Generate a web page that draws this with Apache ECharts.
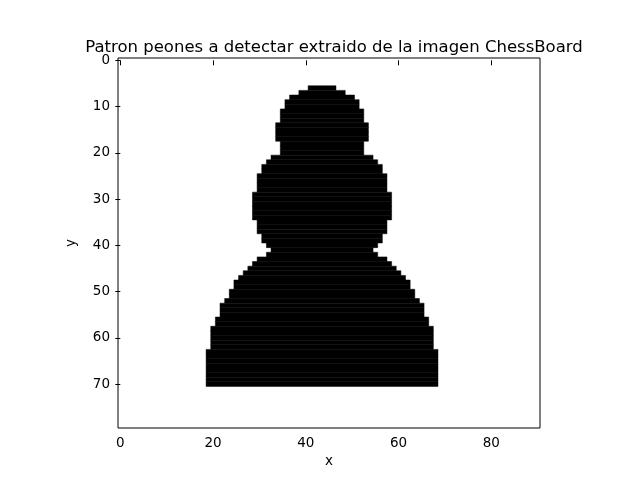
<!DOCTYPE html>
<html>
<head>
<meta charset="utf-8">
<script src="https://cdn.jsdelivr.net/npm/echarts@6/dist/echarts.min.js"></script>
<style>html,body{margin:0;padding:0;background:#fff}#main{width:640px;height:480px}</style>
</head>
<body>
<div id="main"></div>
<script>
var chart = echarts.init(document.getElementById('main'));

// filas de la imagen binaria: fila y, primera y ultima columna en negro
var rowY     = [6, 7, 8, 9, 10, 11, 12, 13, 14, 15, 16, 17, 18, 19, 20, 21, 22, 23, 24, 25, 26, 27, 28, 29, 30, 31, 32, 33, 34, 35, 36, 37, 38, 39, 40, 41, 42, 43, 44, 45, 46, 47, 48, 49, 50, 51, 52, 53, 54, 55, 56, 57, 58, 59, 60, 61, 62, 63, 64, 65, 66, 67, 68, 69, 70];
var rowStart = [41, 39, 37, 36, 36, 35, 35, 35, 34, 34, 34, 34, 35, 35, 35, 33, 32, 31, 31, 30, 30, 30, 30, 29, 29, 29, 29, 29, 29, 30, 30, 30, 31, 31, 32, 33, 32, 30, 29, 28, 27, 26, 25, 25, 24, 24, 23, 22, 22, 22, 21, 21, 20, 20, 20, 20, 20, 19, 19, 19, 19, 19, 19, 19, 19];
var rowEnd   = [46, 48, 50, 51, 51, 52, 52, 52, 53, 53, 53, 53, 52, 52, 52, 54, 55, 56, 56, 57, 57, 57, 57, 58, 58, 58, 58, 58, 58, 57, 57, 57, 56, 56, 55, 54, 55, 57, 58, 59, 60, 61, 62, 62, 63, 63, 64, 65, 65, 65, 66, 66, 67, 67, 67, 67, 67, 68, 68, 68, 68, 68, 68, 68, 68];

var runs = rowY.map(function (y, i) { return [rowStart[i], rowEnd[i], y]; });

var option = {
    animation: false,
    backgroundColor: '#fff',
    title: {
        text: 'Patron peones a detectar extraido de la imagen ChessBoard',
        left: 329, top: 34, textAlign: 'center',
        textStyle: {fontFamily: 'DejaVu Sans', fontSize: 16.5, fontWeight: 'normal', color: '#000'}
    },
    grid: {left: 118, right: 100, top: 58, bottom: 52, show: true, borderColor: '#000', borderWidth: 1},
    xAxis: {
        type: 'value', min: -0.5, max: 90.5, splitNumber: 5,
        name: 'x', nameLocation: 'middle', nameGap: 26,
        nameTextStyle: {fontFamily: 'DejaVu Sans', fontSize: 13.5, color: '#000'},
        axisLine: {show: false},
        axisTick: {show: true, length: 5, lineStyle: {color: '#000'}},
        axisLabel: {showMinLabel: false, showMaxLabel: false, fontFamily: 'DejaVu Sans', fontSize: 13.5, color: '#000', margin: 8},
        splitLine: {show: false}
    },
    yAxis: {
        type: 'value', min: -0.5, max: 79.5, inverse: true, splitNumber: 8,
        name: 'y', nameLocation: 'middle', nameGap: 40,
        nameTextStyle: {fontFamily: 'DejaVu Sans', fontSize: 13.5, color: '#000'},
        axisLine: {show: false},
        axisTick: {show: true, length: 5, lineStyle: {color: '#000'}},
        axisLabel: {showMinLabel: false, showMaxLabel: false, fontFamily: 'DejaVu Sans', fontSize: 13.5, color: '#000', margin: 8},
        splitLine: {show: false}
    },
    series: [{
        type: 'custom',
        data: runs,
        renderItem: function (params, api) {
            var p0 = api.coord([api.value(0) - 0.5, api.value(2) - 0.5]);
            var p1 = api.coord([api.value(1) + 0.5, api.value(2) + 0.5]);
            return {
                type: 'rect',
                shape: {x: p0[0], y: p0[1], width: p1[0] - p0[0], height: p1[1] - p0[1]},
                style: {fill: '#000', stroke: '#000', lineWidth: 0.5}
            };
        }
    }]
};

chart.setOption(option);
</script>
</body>
</html>
